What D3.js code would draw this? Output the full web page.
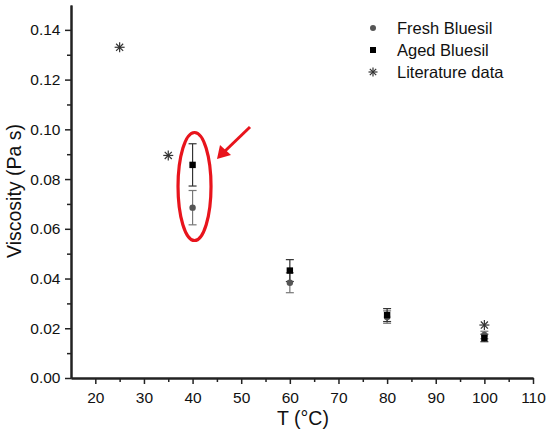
<!DOCTYPE html>
<html><head><meta charset="utf-8">
<script src="https://cdn.jsdelivr.net/npm/d3@7"></script>
<style>body{margin:0;background:#fff}svg{display:block}text{font-family:"Liberation Sans",Arial,sans-serif}</style>
</head><body>
<svg id="c" width="550" height="441"></svg>
<script>
const freshT = [40, 60, 80, 100];
const freshV = [0.0685, 0.0383, 0.0245, 0.0173];
const freshErr = [0.0069, 0.0040, 0.0025, 0.0015];
const agedT = [40, 60, 80, 100];
const agedV = [0.0857, 0.0432, 0.0253, 0.0161];
const agedErr = [0.0085, 0.0044, 0.0026, 0.0015];
const litT = [25, 35, 100];
const litV = [0.133, 0.0895, 0.0213];
const xTicks = [20, 30, 40, 50, 60, 70, 80, 90, 100, 110];
const yTicks = [0, 0.02, 0.04, 0.06, 0.08, 0.10, 0.12, 0.14];
const legendLabels = ["Fresh Bluesil", "Aged Bluesil", "Literature data"];

const svg = d3.select("#c");
const x = d3.scaleLinear().domain([15, 110]).range([71, 533]);
const y = d3.scaleLinear().domain([0, 0.15]).range([378, 5]);

// axes
const xAxis = svg.append("g").attr("transform", "translate(0,378)")
  .call(d3.axisBottom(x).tickValues(xTicks).tickFormat(d3.format("d")).tickSize(6).tickSizeOuter(0));
const xMinor = svg.append("g").attr("transform", "translate(0,378)")
  .call(d3.axisBottom(x).tickValues(d3.range(25, 110, 10)).tickFormat("").tickSize(4).tickSizeOuter(0));
const yAxis = svg.append("g").attr("transform", "translate(71,0)")
  .call(d3.axisLeft(y).tickValues(yTicks).tickFormat(d3.format(".2f")).tickSize(6).tickSizeOuter(0));
const yMinor = svg.append("g").attr("transform", "translate(71,0)")
  .call(d3.axisLeft(y).tickValues(d3.range(0.01, 0.15, 0.02)).tickFormat("").tickSize(4).tickSizeOuter(0));
[xAxis, xMinor, yAxis, yMinor].forEach(g => {
  g.select(".domain").attr("stroke", "#222").attr("stroke-width", 2);
  g.selectAll(".tick line").attr("stroke", "#222").attr("stroke-width", 1.5);
  g.selectAll(".tick text").attr("font-size", 15.5).attr("fill", "#111")
    .attr("font-family", '"Liberation Sans",Arial,sans-serif');
});
xAxis.selectAll(".tick text").attr("dy", "1.0em");
yAxis.selectAll(".tick text").attr("dx", "-0.1em");

svg.append("text").attr("x", 303).attr("y", 425).attr("text-anchor", "middle")
  .attr("font-size", 19.5).attr("fill", "#111").text("T (°C)");
svg.append("text").attr("transform", "translate(21,191) rotate(-90)").attr("text-anchor", "middle")
  .attr("font-size", 19.5).attr("fill", "#111").text("Viscosity (Pa s)");

// error bars
function errBars(T, V, E, color) {
  const g = svg.append("g").attr("stroke", color).attr("stroke-width", 1.2);
  T.forEach((t, i) => {
    const cx = x(t), y1 = y(V[i] + E[i]), y0 = y(V[i] - E[i]);
    g.append("line").attr("x1", cx).attr("x2", cx).attr("y1", y1).attr("y2", y0);
    g.append("line").attr("x1", cx - 4).attr("x2", cx + 4).attr("y1", y1).attr("y2", y1);
    g.append("line").attr("x1", cx - 4).attr("x2", cx + 4).attr("y1", y0).attr("y2", y0);
  });
}
errBars(freshT, freshV, freshErr, "#777");
errBars(agedT, agedV, agedErr, "#333");

function star(g, cx, cy, r) {
  const s = g.append("g").attr("stroke", "#333").attr("stroke-width", 1.2);
  [0, 45, 90, 135].forEach(a => {
    const rad = a * Math.PI / 180;
    s.append("line").attr("x1", cx - r * Math.cos(rad)).attr("y1", cy - r * Math.sin(rad))
      .attr("x2", cx + r * Math.cos(rad)).attr("y2", cy + r * Math.sin(rad));
  });
}

// literature
litT.forEach((t, i) => star(svg, x(t), y(litV[i]), 5));
// fresh circles
svg.selectAll(".fr").data(freshT).enter().append("circle")
  .attr("cx", d => x(d)).attr("cy", (d, i) => y(freshV[i])).attr("r", 3.2).attr("fill", "#555");
// aged squares
svg.selectAll(".ag").data(agedT).enter().append("rect")
  .attr("x", d => x(d) - 3.2).attr("y", (d, i) => y(agedV[i]) - 3.2)
  .attr("width", 6.4).attr("height", 6.4).attr("fill", "#000");

// annotation
svg.append("ellipse").attr("cx", x(40.4)).attr("cy", 186.5).attr("rx", 16.5).attr("ry", 54)
  .attr("fill", "none").attr("stroke", "#e8141c").attr("stroke-width", 3.2);
svg.append("line").attr("x1", 250).attr("y1", 127).attr("x2", 224).attr("y2", 152)
  .attr("stroke", "#e8141c").attr("stroke-width", 3);
svg.append("path").attr("d", "M217,159 L220,145 L231,155 Z").attr("fill", "#e8141c");

// legend
const lg = svg.append("g");
const ly = [28, 50, 72];
lg.append("circle").attr("cx", 373).attr("cy", ly[0]).attr("r", 3).attr("fill", "#555");
lg.append("rect").attr("x", 370).attr("y", ly[1] - 3).attr("width", 6).attr("height", 6).attr("fill", "#000");
star(lg, 373, ly[2], 4.5);
legendLabels.forEach((l, i) => lg.append("text").attr("x", 397).attr("y", ly[i] + 6)
  .attr("font-size", 16.5).attr("fill", "#111").text(l));
</script>
</body></html>
